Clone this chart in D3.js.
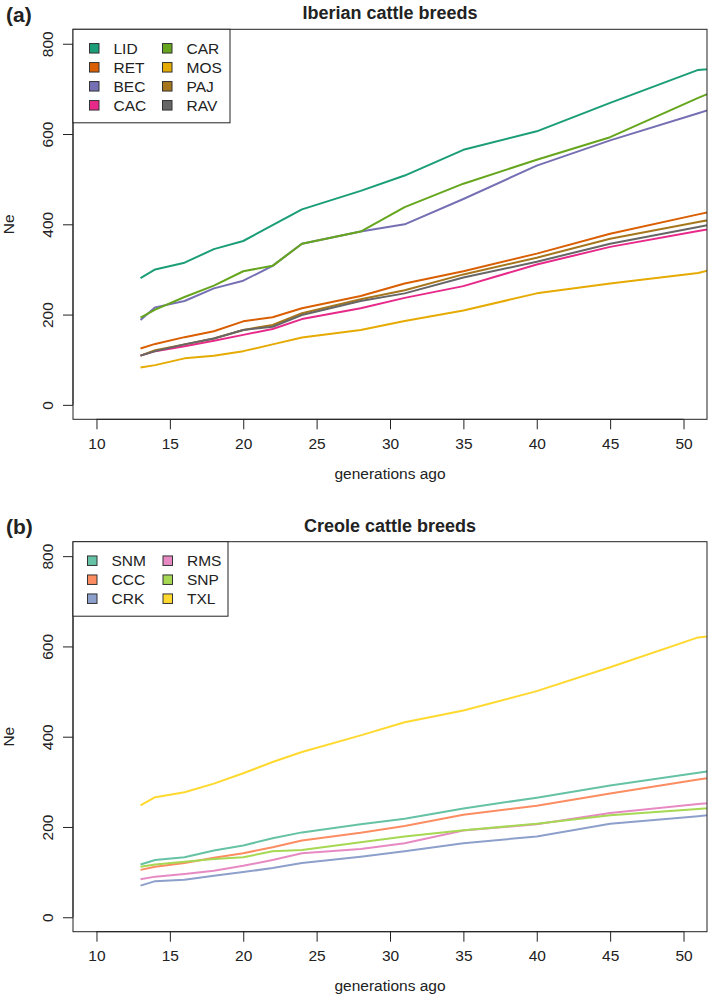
<!DOCTYPE html>
<html>
<head>
<meta charset="utf-8">
<script src="https://cdn.jsdelivr.net/npm/d3@7"></script>
<style>
  body { margin: 0; background: #fff; }
  svg { display: block; font-family: "Liberation Sans", Arial, Helvetica, sans-serif; }
</style>
</head>
<body>
<div id="chart"></div>
<script>
(function () {
  'use strict';

  // generations ago (last bin lies past the right edge and is clipped)
  const gens = [13, 14, 16, 18, 20, 22, 24, 28, 31, 35, 40, 45, 51, 58];
  const xTicks = [10, 15, 20, 25, 30, 35, 40, 45, 50];
  const yTicks = [0, 200, 400, 600, 800];

  // (a) Iberian
  const iberianBreeds = ['LID', 'RET', 'BEC', 'CAC', 'CAR', 'MOS', 'PAJ', 'RAV'];
  const iberianColors = ['#1B9E77', '#D95F02', '#7570B3', '#E7298A', '#66A61E', '#E6AB02', '#A6761D', '#666666'];
  const LID = [281, 300, 315, 345, 363, 398, 433, 474, 508, 565, 606, 669, 742, 760];
  const RET = [125, 135, 150, 163, 185, 194, 214, 241, 269, 296, 335, 379, 422, 471];
  const BEC = [188, 216, 230, 258, 275, 308, 357, 384, 400, 456, 530, 586, 646, 716];
  const CAC = [109, 119, 130, 142, 155, 168, 190, 214, 237, 263, 311, 350, 385, 426];
  const CAR = [193, 211, 239, 264, 296, 308, 357, 384, 438, 490, 543, 593, 680, 775];
  const MOS = [83, 88, 103, 109, 119, 134, 149, 166, 186, 209, 247, 269, 292, 350];
  const PAJ = [109, 121, 134, 147, 166, 177, 203, 234, 254, 289, 326, 368, 405, 448];
  const RAV = [109, 119, 134, 147, 166, 173, 199, 230, 247, 282, 317, 357, 394, 437];

  // (b) Creole
  const creoleBreeds = ['SNM', 'CCC', 'CRK', 'RMS', 'SNP', 'TXL'];
  const creoleColors = ['#66C2A5', '#FC8D62', '#8DA0CB', '#E78AC3', '#A6D854', '#FFD92F'];
  const SNM = [117, 127, 133, 148, 159, 175, 188, 206, 218, 241, 265, 292, 320, 353];
  const CCC = [105, 112, 120, 132, 142, 155, 170, 187, 202, 227, 247, 274, 305, 340];
  const CRK = [70, 80, 83, 92, 100, 109, 120, 134, 146, 164, 179, 207, 224, 244];
  const RMS = [84, 90, 96, 103, 114, 127, 142, 151, 164, 192, 206, 231, 251, 271];
  const SNP = [112, 117, 123, 129, 133, 146, 149, 166, 179, 193, 207, 226, 240, 255];
  const TXL = [248, 266, 277, 296, 319, 344, 366, 403, 432, 458, 501, 554, 620, 640];

  const W = 709, H = 996;
  const ink = '#222';
  const fs = 15.5;

  const svg = d3.select('#chart').append('svg')
    .attr('width', W).attr('height', H);

  function drawPanel(cfg) {
    const left = 73, right = 707;
    const top = cfg.top, bottom = cfg.top + 390;

    const x = d3.scaleLinear().domain([8.4, 51.6]).range([left, right]);
    const y = d3.scaleLinear().domain([-32, 832]).range([bottom, top]);

    const g = svg.append('g');

    g.append('clipPath').attr('id', 'clip-' + cfg.id)
      .append('rect')
      .attr('x', left).attr('y', top)
      .attr('width', right - left).attr('height', bottom - top);

    const line = d3.line()
      .x((d) => x(d.gen))
      .y((d) => y(d.ne));

    const lines = g.append('g').attr('clip-path', `url(#clip-${cfg.id})`);
    cfg.names.forEach((name, i) => {
      const vals = cfg.series[i];
      lines.append('path')
        .datum(gens.map((gv, j) => ({ gen: gv, ne: vals[j] })))
        .attr('fill', 'none')
        .attr('stroke', cfg.colors[i])
        .attr('stroke-width', 2)
        .attr('stroke-linejoin', 'round')
        .attr('d', line);
    });

    // box
    g.append('rect')
      .attr('x', left).attr('y', top)
      .attr('width', right - left).attr('height', bottom - top)
      .attr('fill', 'none').attr('stroke', ink).attr('stroke-width', 1);

    // x axis
    const xa = g.append('g').attr('transform', `translate(0,${bottom})`)
      .call(d3.axisBottom(x).tickValues(xTicks).tickSize(10).tickPadding(6).tickFormat(d3.format('d')));
    xa.select('.domain').attr('stroke', ink)
      .attr('d', `M${x(xTicks[0])},0H${x(xTicks[xTicks.length - 1])}`);
    xa.selectAll('.tick line').attr('stroke', ink);
    xa.selectAll('.tick text')
      .attr('y', 24).attr('dy', '0.35em')
      .attr('fill', ink).attr('font-size', fs).attr('font-family', null);

    // y axis
    const ya = g.append('g').attr('transform', `translate(${left},0)`)
      .call(d3.axisLeft(y).tickValues(yTicks).tickSize(10).tickFormat(d3.format('d')));
    ya.select('.domain').attr('stroke', ink)
      .attr('d', `M0,${y(yTicks[0])}V${y(yTicks[yTicks.length - 1])}`);
    ya.selectAll('.tick line').attr('stroke', ink);
    ya.selectAll('.tick text')
      .attr('x', null).attr('dy', '0.35em')
      .attr('text-anchor', 'middle')
      .attr('transform', 'translate(-25,0) rotate(-90)')
      .attr('fill', ink).attr('font-size', fs).attr('font-family', null);

    // labels
    g.append('text')
      .attr('x', (left + right) / 2).attr('y', bottom + 55).attr('dy', '0.3em')
      .attr('text-anchor', 'middle').attr('font-size', fs).attr('fill', ink)
      .text('generations ago');

    g.append('text')
      .attr('transform', `translate(9,${(top + bottom) / 2}) rotate(-90)`)
      .attr('dy', '0.35em')
      .attr('text-anchor', 'middle').attr('font-size', fs).attr('fill', ink)
      .text('Ne');

    g.append('text')
      .attr('x', (left + right) / 2).attr('y', top - 16.5).attr('dy', '0.36em')
      .attr('text-anchor', 'middle').attr('font-size', 18).attr('font-weight', 'bold')
      .attr('fill', ink)
      .text(cfg.title);

    g.append('text')
      .attr('x', 6).attr('y', top - 15).attr('dy', '0.36em')
      .attr('font-size', 21).attr('font-weight', 'bold').attr('fill', ink)
      .text(cfg.tag);

    // legend (column-major, as R does it)
    const rows = Math.ceil(cfg.names.length / 2);
    const leg = g.append('g');
    leg.append('rect')
      .attr('x', left).attr('y', top)
      .attr('width', cfg.legendW).attr('height', rows * 19 + 17.5)
      .attr('fill', '#fff').attr('stroke', ink).attr('stroke-width', 1);
    cfg.names.forEach((name, i) => {
      const col = Math.floor(i / rows), row = i % rows;
      const cy = top + 19 + row * 19;
      const sx = left + cfg.legendCols[col];
      leg.append('rect')
        .attr('x', sx).attr('y', cy - 4.75)
        .attr('width', 9.5).attr('height', 9.5)
        .attr('fill', cfg.colors[i]).attr('stroke', '#333').attr('stroke-width', 1);
      leg.append('text')
        .attr('x', sx + 24).attr('y', cy).attr('dy', '0.36em')
        .attr('font-size', fs).attr('fill', ink)
        .text(name);
    });
  }

  drawPanel({
    id: 'a', tag: '(a)', title: 'Iberian cattle breeds', top: 29.3,
    names: iberianBreeds, colors: iberianColors,
    series: [LID, RET, BEC, CAC, CAR, MOS, PAJ, RAV],
    legendW: 157, legendCols: [16.5, 89.5]
  });

  drawPanel({
    id: 'b', tag: '(b)', title: 'Creole cattle breeds', top: 541.7,
    names: creoleBreeds, colors: creoleColors,
    series: [SNM, CCC, CRK, RMS, SNP, TXL],
    legendW: 155, legendCols: [14.5, 90]
  });
})();
</script>
</body>
</html>
